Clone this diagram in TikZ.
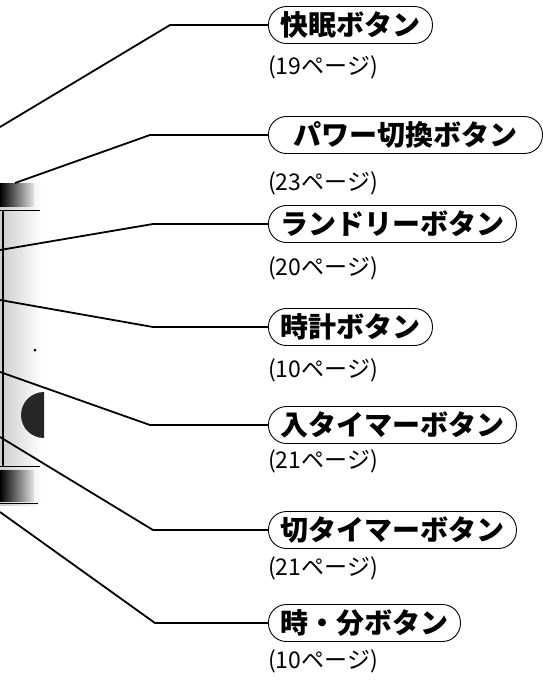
\documentclass[tikz,border=0pt]{standalone}
\usepackage{fontspec}
\newfontfamily\jp{Noto Sans CJK JP}
\usetikzlibrary{positioning}

\begin{document}
\begin{tikzpicture}[
      x=1pt, y=-1pt,
      btn/.style={rectangle, draw, rounded corners=18pt, line width=0.9pt, minimum height=37pt, inner xsep=12pt, inner ysep=0pt, anchor=west, font=\jp\bfseries\fontsize{28}{30}\selectfont},
      pg/.style={inner sep=0pt, font=\jp\fontsize{23}{26}\selectfont},
      leader/.style={line width=1.8pt, line join=round}
    ]
    \useasboundingbox (0,0) rectangle (543,683);

    % Edge of the unit
    \shade[left color=gray!40, right color=white] (0,183) rectangle (42,505);
    \shade[left color=black, right color=gray!20] (0,183) rectangle (34,206);
    \shade[left color=black, right color=gray!20] (0,470) rectangle (34,501);
    \draw[line width=0.8pt] (0,210) -- (40,210) (0,466) -- (40,466) (0,503) -- (38,503);
    \draw[line width=1.6pt] (3,210) -- (3,466);
    \fill[black!85] (44,438) arc (90:270:23) -- cycle;
    \fill (35,350) circle (1.5);

    % Buttons
    \node[btn] (kaimin) at (268,25) {快眠ボタン};
    \node[btn, minimum width=274pt] (power) at (268,135) {パワー切換ボタン};
    \node[btn] (laundry) at (268,224) {ランドリーボタン};
    \node[btn] (clock) at (268,327) {時計ボタン};
    \node[btn] (ontimer) at (268,425) {入タイマーボタン};
    \node[btn] (offtimer) at (268,530) {切タイマーボタン};
    \node[btn] (hourmin) at (268,623) {時・分ボタン};

    % Page references
    \node[pg, below right=12pt and 0pt of kaimin.south west] (kaiminp) {(19ページ)};
    \node[pg, below right=18pt and 0pt of power.south west] (powerp) {(23ページ)};
    \node[pg, below right=14pt and 0pt of laundry.south west] (laundryp) {(20ページ)};
    \node[pg, below right=13pt and 0pt of clock.south west] (clockp) {(10ページ)};
    \node[pg, below right=6pt and 0pt of ontimer.south west] (ontimerp) {(21ページ)};
    \node[pg, below right=8pt and 0pt of offtimer.south west] (offtimerp) {(21ページ)};
    \node[pg, below right=8pt and 0pt of hourmin.south west] (hourminp) {(10ページ)};

    % Leader lines from the unit
    \coordinate (e1) at (0,127);
    \coordinate (e2) at (15,183);
    \coordinate (e3) at (0,250);
    \coordinate (e4) at (0,300);
    \coordinate (e5) at (0,372);
    \coordinate (e6) at (0,437);
    \coordinate (e7) at (0,512);
    \draw[leader] (e1) -- ([xshift=-98pt]kaimin.west) -- (kaimin.west);
    \draw[leader] (e2) -- ([xshift=-118pt]power.west) -- (power.west);
    \draw[leader] (e3) -- ([xshift=-115pt]laundry.west) -- (laundry.west);
    \draw[leader] (e4) -- ([xshift=-115pt]clock.west) -- (clock.west);
    \draw[leader] (e5) -- ([xshift=-118pt]ontimer.west) -- (ontimer.west);
    \draw[leader] (e6) -- ([xshift=-115pt]offtimer.west) -- (offtimer.west);
    \draw[leader] (e7) -- ([xshift=-113pt]hourmin.west) -- (hourmin.west);
\end{tikzpicture}
\end{document}
